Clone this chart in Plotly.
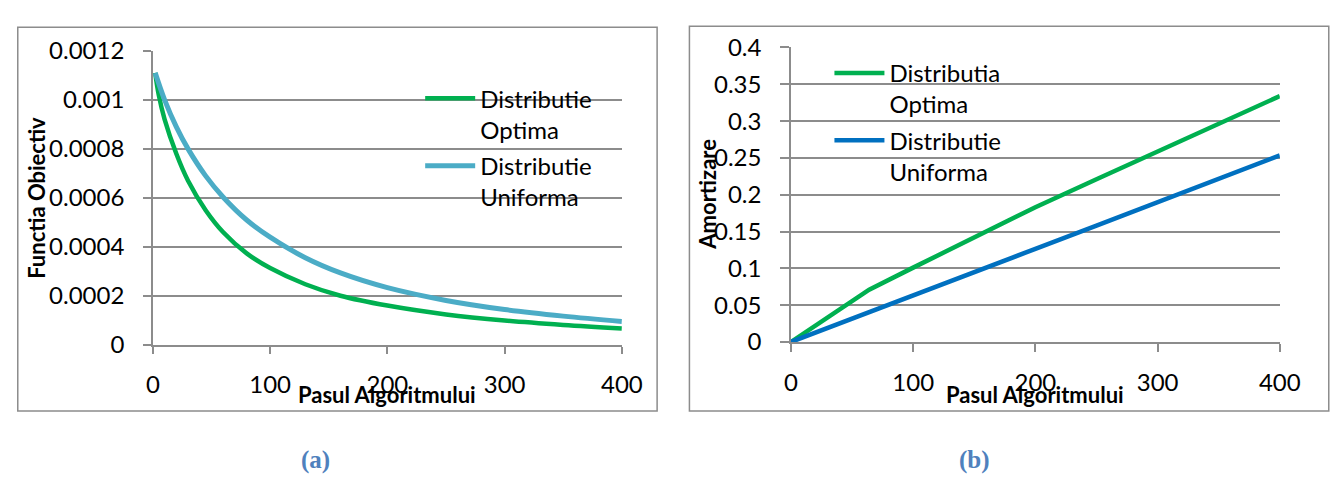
import plotly.graph_objects as go

# ---------------- data ----------------
# Panel (a): objective function vs algorithm step
a_opt_x = [2, 5, 10, 20, 30, 45, 60, 80, 100, 130, 160, 200, 250, 300, 350, 400]
a_opt_y = [0.00111, 0.00102, 0.00092, 0.00078, 0.00067, 0.00055, 0.00046, 0.000374,
           0.000314, 0.000248, 0.000201, 0.000161, 0.000125, 0.0001, 0.000082, 0.0000675]
a_uni_x = [2, 10, 20, 30, 45, 60, 80, 100, 130, 160, 200, 250, 300, 350, 400]
a_uni_y = [0.00111, 0.00100, 0.00089, 0.00080, 0.00069, 0.000603, 0.00051, 0.00044,
           0.000356, 0.000294, 0.000234, 0.000182, 0.000145, 0.000118, 0.000096]

# Panel (b): amortization vs algorithm step
b_opt_x = [0, 32, 64, 100, 150, 200, 250, 300, 350, 400]
b_opt_y = [0, 0.035, 0.071, 0.101, 0.142, 0.183, 0.221, 0.259, 0.297, 0.334]
b_uni_x = [0, 50, 100, 150, 200, 250, 300, 350, 400]
b_uni_y = [0, 0.032, 0.0635, 0.095, 0.1265, 0.158, 0.190, 0.222, 0.2534]

x_tickvals = [0, 100, 200, 300, 400]
x_ticktext = ["0", "100", "200", "300", "400"]
a_y_tickvals = [0, 0.0002, 0.0004, 0.0006, 0.0008, 0.001, 0.0012]
a_y_ticktext = ["0", "0.0002", "0.0004", "0.0006", "0.0008", "0.001", "0.0012"]
b_y_tickvals = [0, 0.05, 0.1, 0.15, 0.2, 0.25, 0.3, 0.35, 0.4]
b_y_ticktext = ["0", "0.05", "0.1", "0.15", "0.2", "0.25", "0.3", "0.35", "0.4"]

a_names = ["Distributie<br>Optima", "Distributie<br>Uniforma"]
b_names = ["Distributia<br>Optima", "Distributie<br>Uniforma"]

# ---------------- style ----------------
W, H = 1339, 485
FONT = "Lato"
GREEN = "#00B050"
AQUA = "#4BACC6"
BLUE = "#0070C0"
GRID = "#8C8C8C"


def px_x(p):
    return p / W


def px_y(p):
    return 1 - p / H


fig = go.Figure()
fig.add_trace(go.Scatter(x=a_opt_x, y=a_opt_y, mode="lines", name=a_names[0],
                         line=dict(color=GREEN, width=4.5, shape="spline", smoothing=1.0),
                         xaxis="x", yaxis="y", legend="legend", legendgroup="a1"))
fig.add_trace(go.Scatter(x=a_uni_x, y=a_uni_y, mode="lines", name=a_names[1],
                         line=dict(color=AQUA, width=5, shape="spline", smoothing=1.0),
                         xaxis="x", yaxis="y", legend="legend", legendgroup="a2"))
fig.add_trace(go.Scatter(x=b_opt_x, y=b_opt_y, mode="lines", name=b_names[0],
                         line=dict(color=GREEN, width=4.5),
                         xaxis="x2", yaxis="y2", legend="legend2", legendgroup="b1"))
fig.add_trace(go.Scatter(x=b_uni_x, y=b_uni_y, mode="lines", name=b_names[1],
                         line=dict(color=BLUE, width=4.5),
                         xaxis="x2", yaxis="y2", legend="legend2", legendgroup="b2"))

axis_common = dict(showgrid=False, zeroline=False, showline=True, linecolor=GRID, linewidth=1.5,
                   ticks="outside", tickcolor=GRID, tickwidth=1.5,
                   tickfont=dict(family=FONT, size=24, color="#000000"), fixedrange=True)

legend_common = dict(xanchor="left", yanchor="top", bgcolor="rgba(0,0,0,0)", valign="top",
                     tracegroupgap=2, itemwidth=50,
                     font=dict(family=FONT, size=24, color="#000000"))

fig.update_layout(
    width=W, height=H,
    margin=dict(l=0, r=0, t=0, b=0),
    paper_bgcolor="white", plot_bgcolor="white",
    showlegend=True,
    xaxis=dict(domain=[px_x(149), px_x(628)], range=[0, 400], anchor="y",
               tickvals=x_tickvals, ticktext=x_ticktext, ticklen=7, ticklabelstandoff=10,
               **axis_common),
    yaxis=dict(domain=[px_y(350), px_y(37)], range=[0, 0.0012], anchor="x",
               tickvals=a_y_tickvals, ticktext=a_y_ticktext, ticklen=8, ticklabelstandoff=14,
               **{**axis_common, "showgrid": True, "gridcolor": GRID, "gridwidth": 1.5}),
    xaxis2=dict(domain=[px_x(800.7), px_x(1300)], range=[0, 400], anchor="y2",
                tickvals=x_tickvals, ticktext=x_ticktext, ticklen=8, ticklabelstandoff=10,
                **axis_common),
    yaxis2=dict(domain=[px_y(346.7), px_y(33.5)], range=[0, 0.4], anchor="x2",
                tickvals=b_y_tickvals, ticktext=b_y_ticktext, ticklen=9, ticklabelstandoff=14,
                **{**axis_common, "showgrid": True, "gridcolor": GRID, "gridwidth": 1.5}),
    legend=dict(x=px_x(422), y=px_y(64), **legend_common),
    legend2=dict(x=px_x(840), y=px_y(37), **legend_common),
)

# panel borders
fig.add_shape(type="rect", xref="paper", yref="paper",
              x0=px_x(11), x1=px_x(664), y0=px_y(420), y1=px_y(12),
              line=dict(color=GRID, width=1.5), layer="below")
fig.add_shape(type="rect", xref="paper", yref="paper",
              x0=px_x(697), x1=px_x(1350), y0=px_y(420), y1=px_y(11),
              line=dict(color=GRID, width=1.5), layer="below")

title_font = dict(family=FONT, size=22, color="#000000")
ann = [
    dict(text="<b>Functia Obiectiv</b>", x=px_x(30), y=px_y(193), textangle=-90),
    dict(text="<b>Pasul Algoritmului</b>", x=px_x(388), y=px_y(403)),
    dict(text="<b>Amortizare</b>", x=px_x(716), y=px_y(190), textangle=-90),
    dict(text="<b>Pasul Algoritmului</b>", x=px_x(1050), y=px_y(403)),
]
for a in ann:
    fig.add_annotation(xref="paper", yref="paper", showarrow=False,
                       xanchor="center", yanchor="middle", font=title_font, **a)

cap_font = dict(family="Liberation Serif", size=25, color="#4F81BD")
fig.add_annotation(text="<b>(a)</b>", x=px_x(315), y=px_y(472), xref="paper", yref="paper",
                   showarrow=False, xanchor="center", yanchor="middle", font=cap_font)
fig.add_annotation(text="<b>(b)</b>", x=px_x(988), y=px_y(472), xref="paper", yref="paper",
                   showarrow=False, xanchor="center", yanchor="middle", font=cap_font)

fig.write_html("out.html", config={"displayModeBar": False})
